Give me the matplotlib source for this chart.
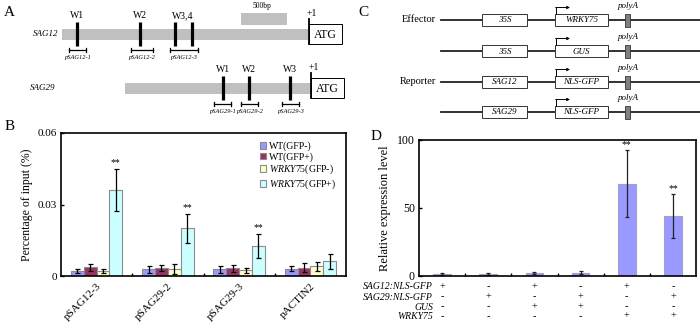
import numpy as np
import matplotlib.pyplot as plt
from matplotlib.patches import Rectangle

plt.rcParams['font.family'] = ['Liberation Serif', 'DejaVu Serif']
plt.rcParams['mathtext.fontset'] = 'custom'
plt.rcParams['mathtext.rm'] = 'Liberation Serif'
plt.rcParams['mathtext.it'] = 'Liberation Serif:italic'

# ---- panel B data (ChIP, % of input)
b_sites = ['pSAG12-3', 'pSAG29-2', 'pSAG29-3', 'pACTIN2']
b_series = ['WT(GFP-)', 'WT(GFP+)', r'$\mathit{WRKY75}$(GFP-)', r'$\mathit{WRKY75}$(GFP+)']
b_wt_neg = [0.0021, 0.0028, 0.0028, 0.0030]
b_wt_neg_err = [0.0010, 0.0015, 0.0015, 0.0010]
b_wt_pos = [0.0036, 0.0035, 0.0033, 0.0035]
b_wt_pos_err = [0.0014, 0.0013, 0.0015, 0.0020]
b_w75_neg = [0.0020, 0.0030, 0.0024, 0.0040]
b_w75_neg_err = [0.0009, 0.0022, 0.0010, 0.0020]
b_w75_pos = [0.0361, 0.0200, 0.0126, 0.0062]
b_w75_pos_err = [0.0087, 0.0060, 0.0050, 0.0032]
b_signif = ['**', '**', '**', '']

# ---- panel D data (relative expression)
d_expr = [1.5, 1.2, 2.0, 2.5, 68.0, 44.0]
d_err = [1.0, 0.8, 0.8, 1.2, 24.5, 16.0]
d_signif = ['', '', '', '', '**', '**']
d_rows = ['SAG12:NLS-GFP', 'SAG29:NLS-GFP', 'GUS', 'WRKY75']
d_sag12 = ['+', '-', '+', '-', '+', '-']
d_sag29 = ['-', '+', '-', '+', '-', '+']
d_gus = ['-', '-', '+', '+', '-', '-']
d_wrky = ['-', '-', '-', '-', '+', '+']

# ---- panel A schematic (diagram units)
sag12_sites = [77, 140, 175, 192]
sag12_site_labels = ['W1', 'W2', 'W3,4']
sag12_site_label_x = [77, 140, 183]
sag12_frags = [(69, 86), (131, 153), (170, 198)]
sag12_frag_labels = ['pSAG12-1', 'pSAG12-2', 'pSAG12-3']
sag29_sites = [223, 249, 290]
sag29_site_labels = ['W1', 'W2', 'W3']
sag29_frags = [(214, 231), (241, 258), (282, 299)]
sag29_frag_labels = ['pSAG29-1', 'pSAG29-2', 'pSAG29-3']

# ---- panel C constructs
c_promoters = ['35S', '35S', 'SAG12', 'SAG29']
c_genes = ['WRKY75', 'GUS', 'NLS-GFP', 'NLS-GFP']
c_row_names = ['Effector', '', 'Reporter', '']

W, H = 700, 326
fig = plt.figure(figsize=(7, 3.26), dpi=100)
ax0 = fig.add_axes([0, 0, 1, 1])
ax0.set_xlim(0, W)
ax0.set_ylim(H, 0)
ax0.axis('off')

grey = '#c0c0c0'

# panel letters
for lab, x, y in [('A', 9, 13), ('B', 10, 126), ('C', 363, 12), ('D', 376, 136)]:
    ax0.text(x, y, lab, fontsize=11, ha='center', va='center')


def gene_track(name, x0, x1, y, sites, site_labels, label_x, frags, frag_labels, name_x):
    ax0.text(name_x, y, name, fontsize=6.5, style='italic', ha='right', va='center')
    ax0.add_patch(Rectangle((x0, y - 5.5), x1 - x0, 11, color=grey, lw=0))
    ax0.add_patch(Rectangle((x1 + 1, y - 10), 33, 20, fc='white', ec='black', lw=0.7))
    ax0.text(x1 + 17.5, y + 0.5, 'ATG', fontsize=8.5, ha='center', va='center')
    ax0.plot([x1 + 1, x1 + 1], [y - 15, y + 10], color='black', lw=1.3)
    ax0.text(x1 + 4, y - 21, '+1', fontsize=7, ha='center', va='center')
    for s in sites:
        ax0.plot([s, s], [y - 12, y + 12], color='black', lw=2.3, solid_capstyle='butt')
    for lab, lx in zip(site_labels, label_x):
        ax0.text(lx, y - 18, lab, fontsize=7, ha='center', va='center')
    for (a, b), lab in zip(frags, frag_labels):
        ax0.plot([a, b], [y + 16, y + 16], color='black', lw=0.9)
        ax0.plot([a, a], [y + 14, y + 18], color='black', lw=0.9)
        ax0.plot([b, b], [y + 14, y + 18], color='black', lw=0.9)
        ax0.text((a + b) / 2, y + 24, lab, fontsize=4.6, style='italic',
                 ha='center', va='center')


gene_track('SAG12', 62, 308, 34, sag12_sites, sag12_site_labels, sag12_site_label_x,
           sag12_frags, sag12_frag_labels, 58)
gene_track('SAG29', 125, 310, 88, sag29_sites, sag29_site_labels, sag29_sites,
           sag29_frags, sag29_frag_labels, 55)
ax0.add_patch(Rectangle((241, 13), 46, 12, color=grey, lw=0))
ax0.text(262, 10.5, '500bp', fontsize=5.5, ha='center', va='bottom')

# panel C
c_rows_y = [20, 51, 82, 112]
for y, prom, gene, rname in zip(c_rows_y, c_promoters, c_genes, c_row_names):
    ax0.plot([441, 700], [y, y], color='#222222', lw=1.3, zorder=1)
    if rname:
        ax0.text(436, y, rname, fontsize=7.5, ha='right', va='center')
    ax0.add_patch(Rectangle((482, y - 6), 45, 12, fc='white', ec='#333333', lw=0.7, zorder=2))
    ax0.text(504.5, y + 0.5, prom, fontsize=6.5, style='italic', ha='center', va='center', zorder=3)
    ax0.add_patch(Rectangle((555, y - 6), 53, 12, fc='white', ec='#333333', lw=0.7, zorder=2))
    ax0.text(581.5, y + 0.5, gene, fontsize=6.5, style='italic', ha='center', va='center', zorder=3)
    ax0.add_patch(Rectangle((625, y - 6), 5, 13, fc='#808080', ec='#333333', lw=0.6, zorder=2))
    ax0.text(628, y - 14, 'polyA', fontsize=6.5, style='italic', ha='center', va='center')
    ax0.plot([556, 556], [y - 6, y - 12.5], color='black', lw=0.7)
    ax0.annotate('', xy=(570, y - 12.5), xytext=(555.6, y - 12.5),
                 arrowprops=dict(arrowstyle='-|>', color='black', lw=0.7,
                                 mutation_scale=4, shrinkA=0, shrinkB=0))

# panel B bars
axB = fig.add_axes([61 / W, (H - 276) / H, 285 / W, 143 / H])
b_colors = ['#9999ff', '#993366', '#ffffcc', '#ccffff']
b_vals = [b_wt_neg, b_wt_pos, b_w75_neg, b_w75_pos]
b_errs = [b_wt_neg_err, b_wt_pos_err, b_w75_neg_err, b_w75_pos_err]
x = np.arange(len(b_sites))
bw = 0.18
for i in range(4):
    axB.bar(x + (i - 1.5) * bw, b_vals[i], bw, color=b_colors[i], edgecolor='#8c8c8c',
            lw=0.8, yerr=b_errs[i], label=b_series[i],
            error_kw=dict(ecolor='black', elinewidth=0.9, capsize=1.8, capthick=0.9))
for xi, v, e, s in zip(x, b_w75_pos, b_w75_pos_err, b_signif):
    if s:
        axB.text(xi + 1.5 * bw, v + e + 0.0008, s, fontsize=7, ha='center', va='bottom')
axB.set_xlim(-0.5, len(b_sites) - 0.5)
axB.set_ylim(0, 0.06)
axB.set_yticks([0, 0.03, 0.06])
axB.set_yticklabels(['0', '0.03', '0.06'], fontsize=8)
axB.set_xticks(x)
axB.set_xticklabels(b_sites, rotation=45, ha='right', rotation_mode='anchor', fontsize=8)
axB.set_xticks(x[:-1] + 0.5, minor=True)
axB.tick_params(axis='x', which='major', length=0, pad=4)
axB.tick_params(axis='x', which='minor', length=2.5, direction='in', width=1)
axB.tick_params(axis='y', length=2.5, direction='in', width=1, pad=3)
axB.set_ylabel('Percentage of input (%)', fontsize=8.5, labelpad=3)
for sp in axB.spines.values():
    sp.set_linewidth(1.2)
axB.legend(loc='upper right', frameon=False, fontsize=7, handlelength=0.7,
           handleheight=0.7, handletextpad=0.3, labelspacing=0.12,
           borderaxespad=0.3, bbox_to_anchor=(0.99, 0.99))

# panel D bars
axD = fig.add_axes([419 / W, (H - 276) / H, 277 / W, 136 / H])
xd = np.arange(len(d_expr))
axD.bar(xd, d_expr, 0.38, color='#9999ff', edgecolor='#a0a0c8', lw=0.8, yerr=d_err,
        error_kw=dict(ecolor='#222222', elinewidth=0.9, capsize=1.5, capthick=0.9))
for xi, v, e, s in zip(xd, d_expr, d_err, d_signif):
    if s:
        axD.text(xi, v + e + 1, s, fontsize=7, ha='center', va='bottom')
axD.set_xlim(-0.5, len(d_expr) - 0.5)
axD.set_ylim(0, 100)
axD.set_yticks([0, 50, 100])
axD.set_yticklabels(['0', '50', '100'], fontsize=8.5)
axD.set_xticks([])
axD.set_xticks(xd[:-1] + 0.5, minor=True)
axD.tick_params(axis='x', which='minor', length=2.5, direction='in', width=1)
axD.tick_params(axis='y', length=2.5, direction='in', width=1, pad=3)
axD.set_ylabel('Relative expression level', fontsize=9, labelpad=4)
for sp in axD.spines.values():
    sp.set_linewidth(1.2)

# condition table under D
table_rows = [d_sag12, d_sag29, d_gus, d_wrky]
row_y = [-0.078, -0.155, -0.228, -0.295]
tr = axD.get_xaxis_transform()
for name, signs, yy in zip(d_rows, table_rows, row_y):
    axD.text(-0.2, yy, name, fontsize=7, style='italic', ha='right', va='center',
             transform=tr, clip_on=False)
    for xi, s in zip(xd, signs):
        axD.text(xi, yy, s, fontsize=7.5, ha='center', va='center',
                 transform=tr, clip_on=False)

fig.savefig('out.png', dpi=100)
